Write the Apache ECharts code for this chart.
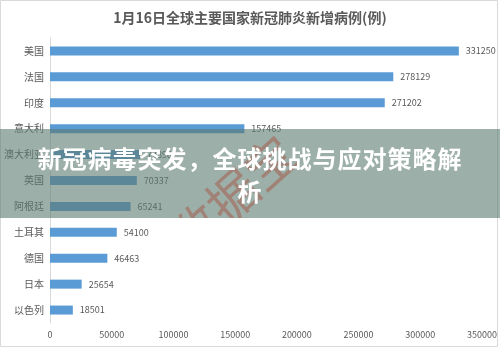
<!DOCTYPE html>
<html>
<head>
<meta charset="utf-8">
<script src="https://cdn.jsdelivr.net/npm/echarts@6/dist/echarts.min.js"></script>
<style>
  html, body { margin: 0; padding: 0; background: #fff; }
  #wrap { position: relative; width: 500px; height: 348px; overflow: hidden; }
  #main { position: absolute; left: 0; top: 0; width: 500px; height: 348px; }
  #band {
    position: absolute; left: 0; top: 129px; width: 500px; height: 89px;
    background: rgba(92, 122, 112, 0.6); overflow: hidden;
  }
  #mark {
    position: absolute; left: 158px; top: 96px; width: 220px;
    font-family: "Noto Sans CJK SC", sans-serif; font-size: 50px; line-height: 50px;
    color: rgba(165, 75, 60, 0.45); transform-origin: 0 0; transform: rotate(-42deg);
    white-space: nowrap;
  }
  #headline {
    position: absolute; left: 30px; top: 12px; width: 440px; text-align: center;
    font-family: "Noto Sans CJK SC", sans-serif; font-weight: bold; font-size: 24px;
    line-height: 33px; color: #fff; letter-spacing: 1px;
  }
</style>
</head>
<body>
<div id="wrap">
  <div id="main"></div>
  <div id="band">
    <div id="mark">数据宝</div>
    <div id="headline">新冠病毒突发，全球挑战与应对策略解析</div>
  </div>
</div>
<script>
// 1月16日 各国新增病例
var countries = ['美国', '法国', '印度', '意大利', '澳大利亚', '英国', '阿根廷', '土耳其', '德国', '日本', '以色列'];
var newCases = [331250, 278129, 271202, 157465, 72898, 70337, 65241, 54100, 46463, 25654, 18501];
var xTicks = [0, 50000, 100000, 150000, 200000, 250000, 300000, 350000];

var chart = echarts.init(document.getElementById('main'));
chart.setOption({
  backgroundColor: '#fff',
  animation: false,
  title: {
    text: '1月16日全球主要国家新冠肺炎新增病例(例)',
    left: 'center',
    top: 6,
    textStyle: { fontSize: 14, fontWeight: 'bold', color: '#595959', fontFamily: 'Noto Sans CJK SC' }
  },
  grid: { left: 50, right: 16, top: 38, bottom: 25, containLabel: false },
  xAxis: {
    type: 'value',
    min: xTicks[0],
    max: xTicks[xTicks.length - 1],
    interval: 50000,
    axisLine: { show: false },
    axisTick: { show: false },
    splitLine: { show: false },
    axisLabel: {
      color: '#595959', fontSize: 9, margin: 7, fontFamily: 'Noto Sans CJK SC',
      formatter: function (v) { return String(v); }
    }
  },
  yAxis: {
    type: 'category',
    data: countries,
    inverse: true,
    axisLine: { show: true, lineStyle: { color: '#d9d9d9' } },
    axisTick: { show: false },
    axisLabel: { color: '#595959', fontSize: 10, margin: 6, fontFamily: 'Noto Sans CJK SC' }
  },
  series: [{
    type: 'bar',
    data: newCases,
    barWidth: 9,
    itemStyle: { color: '#5b9bd5' },
    label: {
      show: true,
      position: 'right',
      distance: 7,
      color: '#595959',
      fontSize: 9,
      fontFamily: 'Noto Sans CJK SC'
    }
  }],
  graphic: [{
    type: 'rect',
    shape: { x: 0.5, y: 0.5, width: 497, height: 346 },
    style: { fill: 'none', stroke: '#d9d9d9', lineWidth: 1 },
    silent: true
  }]
});
</script>
</body>
</html>
